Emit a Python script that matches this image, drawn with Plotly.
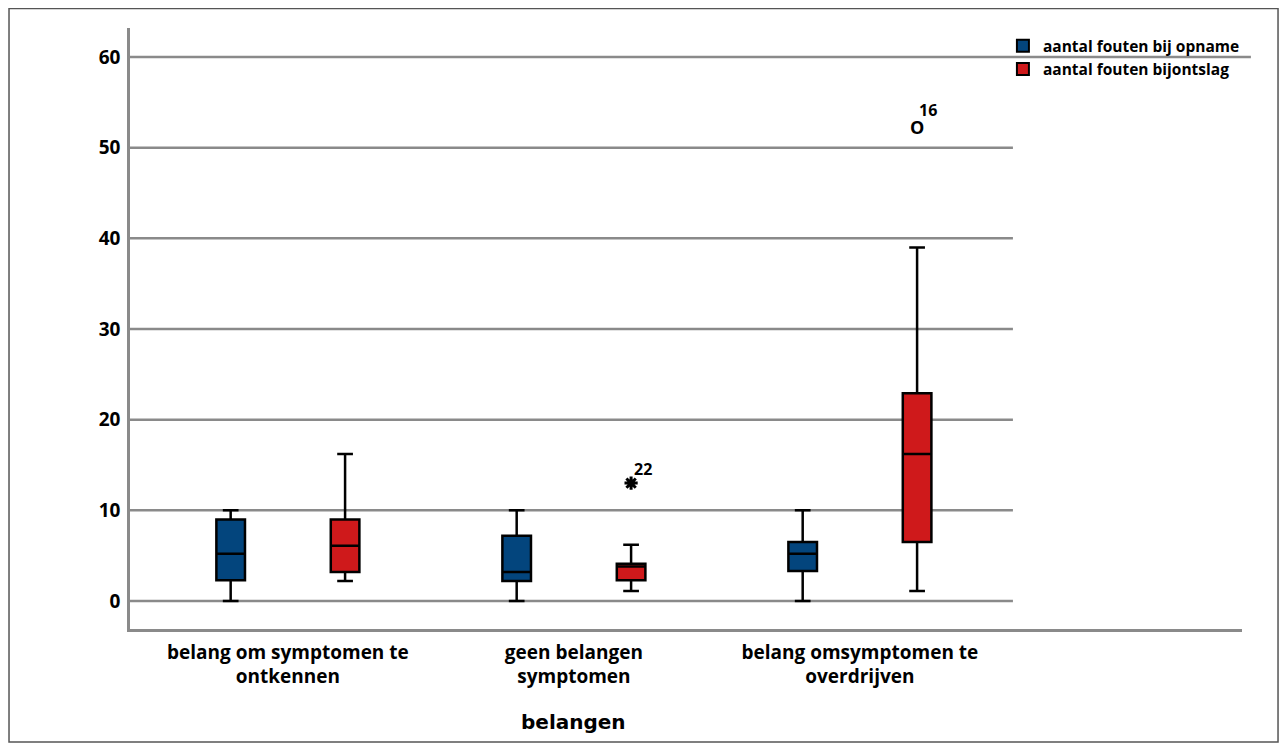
import plotly.graph_objects as go

categories = ["belang om symptomen te<br>ontkennen", "geen belangen<br>symptomen", "belang omsymptomen te<br>overdrijven"]
series_names = ["aantal fouten bij opname", "aantal fouten bijontslag"]
colors = ["#03457D", "#CF191B"]

# per series: [group1, group2, group3]
opname_low = [0, 0, 0]
opname_q1 = [2.3, 2.2, 3.3]
opname_med = [5.2, 3.2, 5.2]
opname_q3 = [9.0, 7.2, 6.5]
opname_high = [10, 10, 10]

ontslag_low = [2.2, 1.1, 1.1]
ontslag_q1 = [3.2, 2.3, 6.5]
ontslag_med = [6.1, 3.8, 16.2]
ontslag_q3 = [9.0, 4.1, 22.9]
ontslag_high = [16.2, 6.2, 39]

# outliers (series 2), group index 0-based
star_group = [1]
star_value = [13]
star_label = ["22"]
circle_group = [2]
circle_value = [52]
circle_label = ["16"]

y_ticks = [0, 10, 20, 30, 40, 50, 60]

offset = 0.2
box_w = 0.1
FONT = "Open Sans"

fig = go.Figure()
stats = [
    (opname_low, opname_q1, opname_med, opname_q3, opname_high),
    (ontslag_low, ontslag_q1, ontslag_med, ontslag_q3, ontslag_high),
]
for s, (lo, q1, med, q3, hi) in enumerate(stats):
    xs = [i + (offset if s else -offset) for i in range(len(categories))]
    fig.add_trace(go.Box(
        x=xs, lowerfence=lo, q1=q1, median=med, q3=q3, upperfence=hi,
        fillcolor=colors[s], line=dict(color="black", width=2.5),
        width=box_w, whiskerwidth=0.55, showlegend=False, hoverinfo="skip",
        boxpoints=False,
    ))

# outliers
fig.add_trace(go.Scatter(
    x=[g + offset for g in star_group], y=star_value, mode="markers",
    marker=dict(symbol="asterisk-open", size=11, color="black", line=dict(color="black", width=3)),
    showlegend=False, hoverinfo="skip",
))
fig.add_trace(go.Scatter(
    x=[g + offset for g in circle_group], y=circle_value, mode="text", text=["O"] * len(circle_group),
    textfont=dict(family=FONT, size=18, color="black", weight="bold"),
    showlegend=False, hoverinfo="skip",
))
for g, v, lab in zip(star_group, star_value, star_label):
    fig.add_annotation(x=g + offset, y=v, text=f"<b>{lab}</b>", showarrow=False,
                       xshift=12, yshift=14, font=dict(family=FONT, size=16, color="black"))
for g, v, lab in zip(circle_group, circle_value, circle_label):
    fig.add_annotation(x=g + offset, y=v, text=f"<b>{lab}</b>", showarrow=False,
                       xshift=11, yshift=20, font=dict(family=FONT, size=16, color="black"))

# legend entries
for s in range(2):
    fig.add_trace(go.Scatter(
        x=[None], y=[None], mode="markers", name=series_names[s],
        marker=dict(symbol="square", size=18, color=colors[s], line=dict(color="black", width=2)),
    ))

# gridlines
for t in y_ticks:
    fig.add_shape(type="line", xref="paper", yref="y", x0=0, x1=(1.008 if t == 60 else 0.794),
                  y0=t, y1=t, line=dict(color="#8A8A8A", width=2.5), layer="below")

# outer frame
fig.add_shape(type="rect", xref="paper", yref="paper", x0=-0.1088, x1=1.0324, y0=-0.188, y1=1.0324,
              line=dict(color="#555555", width=1.5), fillcolor="rgba(0,0,0,0)")

fig.add_annotation(x=1, y=-0.155, xref="x", yref="paper", text="<b>belangen</b>", showarrow=False,
                   font=dict(family="DejaVu Sans", size=20, color="black"), yanchor="middle")

fig.update_layout(
    width=1271, height=735,
    margin=dict(l=122, r=37, t=20, b=114),
    paper_bgcolor="white", plot_bgcolor="white",
    showlegend=True,
    legend=dict(x=0.785, y=0.998, xanchor="left", yanchor="top", bgcolor="rgba(0,0,0,0)",
                font=dict(family=FONT, size=15.5, color="black", weight="bold"),
                itemsizing="constant", tracegroupgap=0, itemwidth=30),
    xaxis=dict(range=[-0.552, 3.336], tickmode="array", tickvals=list(range(len(categories))),
               ticktext=[f"<b>{c}</b>" for c in categories], showgrid=False, zeroline=False,
               showline=True, linecolor="#8A8A8A", linewidth=2.5,
               ticks="outside", ticklen=4, tickcolor="rgba(0,0,0,0)",
               tickfont=dict(family=FONT, size=19, color="black")),
    yaxis=dict(range=[-3.09, 63.2], tickmode="array", tickvals=y_ticks,
               ticktext=[f"<b>{t}</b>" for t in y_ticks], showgrid=False, zeroline=False,
               showline=True, linecolor="#8A8A8A", linewidth=2.5,
               ticks="outside", ticklen=3, tickcolor="rgba(0,0,0,0)",
               tickfont=dict(family=FONT, size=19, color="black")),
)

fig.write_html("out.html")
